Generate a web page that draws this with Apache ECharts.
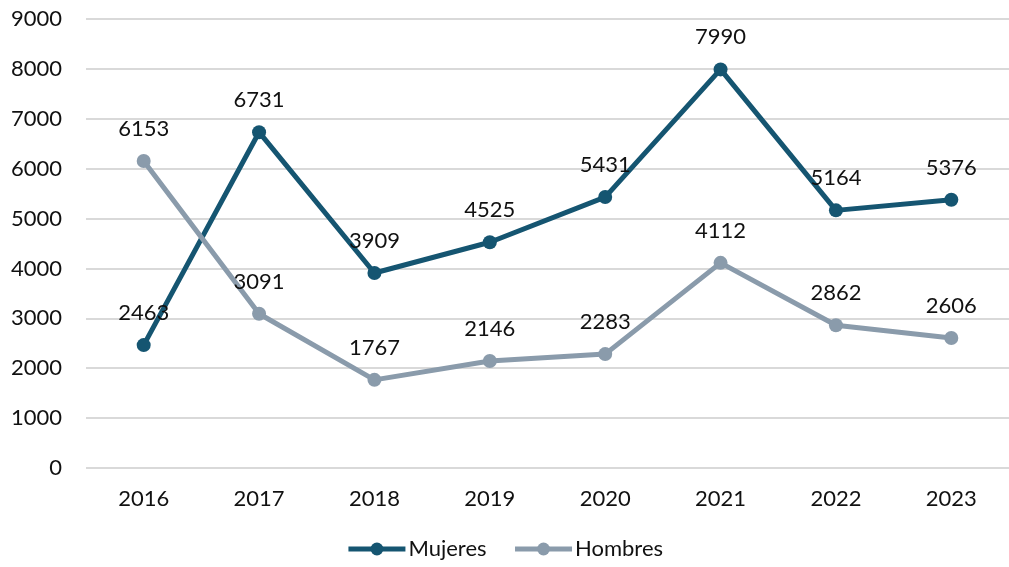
<!DOCTYPE html>
<html>
<head>
<meta charset="utf-8">
<script src="https://cdn.jsdelivr.net/npm/echarts@6/dist/echarts.min.js"></script>
<style>
html,body{margin:0;padding:0;background:#fff;}
#chart{width:1009px;height:567px;}
</style>
</head>
<body>
<div id="chart"></div>
<script>
//年份
var years = ['2016','2017','2018','2019','2020','2021','2022','2023'];
//数据
var mujeres = [2463, 6731, 3909, 4525, 5431, 7990, 5164, 5376];
var hombres = [6153, 3091, 1767, 2146, 2283, 4112, 2862, 2606];

var FONT = 'Lato';
var myChart = echarts.init(document.getElementById('chart'));

function lineSeries(name, data, color){
	return {
		name: name,
		type: 'line',
		data: data,
		symbol: 'circle',
		symbolSize: 14,
		lineStyle: {color: color, width: 5},
		itemStyle: {color: color},
		label: {
			show: true,
			position: 'top',
			distance: 14,
			color: '#111',
			fontFamily: FONT,
			fontSize: 22
		},
		emphasis: {disabled: true}
	};
}

option = {
	animation: false,
	grid: {left: 86, right: -10, top: 19, bottom: 99, containLabel: false},
	legend: {
		bottom: 2,
		left: 'center',
		itemWidth: 57,
		itemHeight: 16,
		itemGap: 26,
		lineStyle: {width: 5},
		textStyle: {fontFamily: FONT, fontSize: 22, color: '#111', padding: [0, 0, 0, -2]},
		data: ['Mujeres', 'Hombres']
	},
	xAxis: {
		type: 'category',
		data: years,
		axisLine: {show: false},
		axisTick: {show: false},
		axisLabel: {fontFamily: FONT, fontSize: 22, color: '#111', margin: 20}
	},
	yAxis: {
		type: 'value',
		min: 0,
		max: 9000,
		interval: 1000,
		axisLabel: {
			fontFamily: FONT, fontSize: 22, color: '#111', margin: 24,
			formatter: function(v){ return String(v); }
		},
		splitLine: {lineStyle: {color: '#d9d9d9', width: 2}}
	},
	series: [
		lineSeries('Mujeres', mujeres, '#155571'),
		lineSeries('Hombres', hombres, '#8a9bab')
	]
};
myChart.setOption(option);
</script>
</body>
</html>
